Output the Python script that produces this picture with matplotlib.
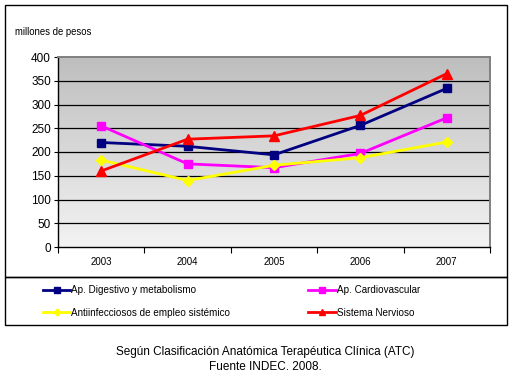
import numpy as np
import matplotlib
matplotlib.use("Agg")
import matplotlib.pyplot as plt
from matplotlib.patches import Rectangle
from matplotlib.lines import Line2D
from matplotlib.colors import LinearSegmentedColormap

plt.rcParams['font.family'] = ['Liberation Sans', 'DejaVu Sans']

years = ["2003", "2004", "2005", "2006", "2007"]
digestivo = [220, 212, 194, 256, 334]
cardio = [255, 175, 167, 197, 272]
antiinf = [183, 140, 172, 188, 221]
nervioso = [160, 227, 234, 277, 365]
series_names = ["Ap. Digestivo y metabolismo", "Ap. Cardiovascular",
                "Antiinfecciosos de empleo sistémico", "Sistema Nervioso"]
yticks = [0, 50, 100, 150, 200, 250, 300, 350, 400]

W, H = 514, 379
fig = plt.figure(figsize=(W / 100, H / 100), dpi=100)
fig.patch.set_facecolor('white')

def fx(px):
    return px / W

def fy(py):
    return 1 - py / H

# outer boxes
fig.patches.append(Rectangle((fx(5), fy(277)), fx(507) - fx(5), fy(5) - fy(277),
                             transform=fig.transFigure, fill=False, ec='black', lw=1.0))
fig.patches.append(Rectangle((fx(5), fy(325)), fx(507) - fx(5), fy(277) - fy(325),
                             transform=fig.transFigure, fill=False, ec='black', lw=1.0))

ax = fig.add_axes([fx(58), fy(247), fx(490) - fx(58), fy(57) - fy(247)])
x = np.arange(len(years))
ax.set_xlim(-0.5, 4.5)
ax.set_ylim(0, 400)

# gradient background
grad = np.linspace(0, 1, 256).reshape(-1, 1)
cmap = LinearSegmentedColormap.from_list('g', ['#f3f3f3', '#bebebe'])
ax.imshow(grad, extent=[-0.5, 4.5, 0, 400], origin='lower', aspect='auto',
          cmap=cmap, zorder=0)

for yv in yticks[1:-1]:
    ax.axhline(yv, color='black', lw=0.9, zorder=1)

ax.plot(x, digestivo, color='#000080', marker='s', ms=6, lw=2.0, zorder=3)
ax.plot(x, cardio, color='#ff00ff', marker='s', ms=6, lw=2.0, zorder=3)
ax.plot(x, antiinf, color='#ffff00', marker='D', ms=5, lw=2.0, zorder=3)
ax.plot(x, nervioso, color='#ff0000', marker='^', ms=7, lw=2.0, zorder=4)

ax.spines['top'].set_color('#808080')
ax.spines['right'].set_color('#808080')
ax.spines['top'].set_linewidth(1.4)
ax.spines['right'].set_linewidth(1.4)
ax.spines['left'].set_color('black')
ax.spines['bottom'].set_color('black')
ax.spines['left'].set_linewidth(1.0)
ax.spines['bottom'].set_linewidth(1.0)

ax.set_yticks(yticks)
ax.set_yticklabels([str(v) for v in yticks], fontsize=8.5)
ax.tick_params(axis='y', direction='out', length=3, width=0.8, pad=2)
ax.set_xticks(np.arange(-0.5, 5, 1.0))
ax.set_xticklabels([])
ax.set_xticks(x, minor=True)
ax.set_xticklabels(years, minor=True, fontsize=7)
ax.tick_params(axis='x', which='major', direction='out', length=4, width=0.8)
ax.tick_params(axis='x', which='minor', length=0, pad=7)

fig.text(fx(15), fy(32), "millones de pesos", fontsize=6.9, va='center', ha='left')

handles = [
    Line2D([], [], color='#000080', marker='s', ms=4, lw=2),
    Line2D([], [], color='#ffff00', marker='D', ms=3.5, lw=2),
    Line2D([], [], color='#ff00ff', marker='s', ms=4, lw=2),
    Line2D([], [], color='#ff0000', marker='^', ms=5, lw=2),
]
labels = [series_names[0], series_names[2], series_names[1], series_names[3]]
fig.legend(handles, labels, ncol=2, loc='center left',
           bbox_to_anchor=(fx(34), fy(301.5)), frameon=False, fontsize=7.1,
           handlelength=2.8, handletextpad=0.1, columnspacing=7.9,
           labelspacing=1.3)

fig.text(0.516, fy(352), "Según Clasificación Anatómica Terapéutica Clínica (ATC)",
         ha='center', va='center', fontsize=8.5)
fig.text(0.516, fy(367), "Fuente INDEC. 2008.", ha='center', va='center', fontsize=8.5)

fig.savefig('out.png', dpi=100)
